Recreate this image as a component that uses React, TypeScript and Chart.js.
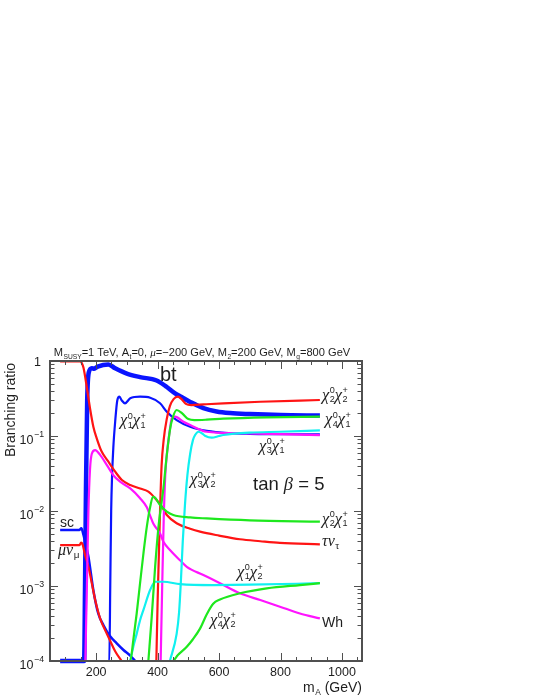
import React, { useEffect, useRef } from "react";
import { Chart, registerables } from "chart.js";
Chart.register(...registerables);

type Pt = [number, number];

// ---- data: [m_A (GeV), branching ratio] ----
const BT: Pt[] = [[83,1e-4],[161,1e-4],[164,1e-3],[167,0.02],[171,0.3],[176,0.7],[186,0.8],[194,0.79],[205,0.84],[240,0.9],[262,0.8],[300,0.68],[343,0.61],[397,0.55],[430,0.45],[457,0.37],[473,0.34],[506,0.285],[549,0.235],[592,0.212],[636,0.202],[700,0.196],[800,0.19],[928,0.187]];
const C1C1: Pt[] = [[83,1e-4],[243,1e-4],[246,1e-3],[249,0.01],[252,0.03],[256,0.07],[262,0.155],[269,0.3],[276,0.334],[283,0.3],[294,0.273],[311,0.318],[343,0.334],[376,0.324],[408,0.273],[430,0.211],[462,0.163],[506,0.133],[560,0.117],[636,0.109],[700,0.107],[928,0.105]];
const SC: Pt[] = [[83,5.6e-3],[146,5.6e-3],[152,5.9e-3],[159,4.8e-3],[167,3.5e-3],[175,2.46e-3],[191,8.8e-4],[207,4.3e-4],[224,3.0e-4],[245,2.15e-4],[267,1.72e-4],[289,1.4e-4],[311,1.18e-4],[327,1e-4]];
const MUNU: Pt[] = [[83,3.5e-3],[146,3.5e-3],[151,3.8e-3],[156,3.6e-3],[164,2.6e-3],[175,1.8e-3],[186,1.09e-3],[197,6.5e-4],[213,3.7e-4],[235,2.3e-4],[246,1.85e-4],[262,1.35e-4],[283,1e-4]];
const TAUNU: Pt[] = [[83,0.99],[148,0.99],[153,0.95],[159,0.81],[170,0.44],[180,0.236],[191,0.133],[202,0.093],[218,0.062],[240,0.0455],[262,0.0334],[284,0.0259],[311,0.0222],[343,0.02],[370,0.0181],[392,0.0148],[414,0.0114],[430,8.85e-3],[462,6.86e-3],[506,5.8e-3],[538,5.3e-3],[600,4.7e-3],[668,4.2e-3],[734,3.95e-3],[798,3.75e-3],[928,3.6e-3]];
const C2C2: Pt[] = [[396,1e-4],[400,6e-4],[404,2.5e-3],[408,0.01],[413,0.04],[420,0.09],[430,0.17],[440,0.25],[452,0.31],[466,0.334],[478,0.31],[492,0.268],[510,0.258],[550,0.264],[614,0.273],[734,0.286],[928,0.302]];
const C4C1: Pt[] = [[370,1e-4],[381,3.9e-4],[392,1.8e-3],[403,6.2e-3],[414,0.014],[419,0.02],[430,0.056],[441,0.126],[450,0.18],[462,0.222],[480,0.2],[500,0.168],[520,0.163],[560,0.165],[614,0.17],[755,0.177],[928,0.181]];
const C2C1: Pt[] = [[148,1e-4],[311,1e-4],[321,1.9e-4],[332,4.3e-4],[343,1.09e-3],[354,2.73e-3],[365,6.2e-3],[376,0.0114],[385,0.0155],[392,0.015],[408,0.012],[430,9.8e-3],[451,8.85e-3],[506,8.2e-3],[560,7.95e-3],[700,7.5e-3],[928,7.2e-3]];
const C4C2: Pt[] = [[148,1e-4],[448,1e-4],[466,1.2e-4],[495,1.55e-4],[515,1.95e-4],[538,2.7e-4],[560,4.2e-4],[581,5.8e-4],[603,6.6e-4],[668,8e-4],[755,9.3e-4],[863,1.03e-3],[928,1.09e-3]];
const C3C1: Pt[] = [[410,1e-4],[415,1e-3],[420,8e-3],[425,0.03],[430,0.056],[441,0.13],[446,0.172],[457,0.181],[484,0.155],[506,0.14],[560,0.114],[668,0.109],[798,0.106],[928,0.103]];
const WH: Pt[] = [[165,1e-4],[170,1e-3],[175,0.01],[180,0.035],[186,0.058],[197,0.065],[213,0.056],[235,0.041],[256,0.03],[278,0.0246],[311,0.02],[343,0.0148],[365,0.0112],[376,8.6e-3],[386,6.8e-3],[408,5e-3],[419,3.9e-3],[441,3e-3],[473,2.2e-3],[495,1.8e-3],[549,1.4e-3],[603,1.09e-3],[668,8e-4],[734,6.5e-4],[798,5.3e-4],[863,4.3e-4],[928,3.7e-4]];
const C3C2: Pt[] = [[440,1e-4],[462,2.3e-4],[470,4.5e-4],[476,1.2e-3],[482,4e-3],[489,0.012],[497,0.03],[506,0.058],[515,0.088],[522,0.103],[533,0.114],[545,0.108],[554,0.101],[576,0.095],[600,0.1],[614,0.103],[701,0.111],[798,0.114],[928,0.119]];
const C1C2: Pt[] = [[311,1e-4],[321,1.55e-4],[332,2.3e-4],[343,3.5e-4],[354,4.8e-4],[376,8.9e-4],[392,1.14e-3],[419,1.14e-3],[473,1.06e-3],[581,1.03e-3],[700,1.04e-3],[928,1.09e-3]];

const X_MIN = 50;
const X_MAX = 1065;
const Y_MIN = 1e-4;
const Y_MAX = 1;
const X_TICK_LABELS = [200, 400, 600, 800, 1000];
const Y_DECADES = [-4, -3, -2, -1, 0];

const RED = "#ff1414";
const BLUE = "#0a14ff";
const GREEN = "#1ee81e";
const CYAN = "#10f0f0";
const MAGENTA = "#ff14ff";
const AXIS = "#505050";
const TEXT = "#1e1e1e";

const SANS = '"Liberation Sans", Arial, Helvetica, sans-serif';
const SERIF = '"Liberation Serif", "Times New Roman", serif';

type Seg = { t: string; sub?: string; sup?: string; it?: boolean; fam?: string };

function fnt(size: number, it: boolean | undefined, fam: string) {
  return `${it ? "italic " : ""}${size}px ${fam}`;
}

function drawRich(
  ctx: CanvasRenderingContext2D,
  segs: Seg[],
  x: number,
  y: number,
  size: number,
  align: "left" | "right" | "center" = "left",
  o: { idx?: number; subDy?: number; supDy?: number; color?: string } = {}
) {
  const idx = (o.idx ?? 0.62) * size;
  const subDy = (o.subDy ?? 0.22) * size;
  const supDy = (o.supDy ?? -0.38) * size;
  let total = 0;
  for (const s of segs) {
    ctx.font = fnt(size, s.it, s.fam || SANS);
    let w = ctx.measureText(s.t).width;
    if (s.sub || s.sup) {
      ctx.font = fnt(idx, false, SANS);
      const a = s.sub ? ctx.measureText(s.sub).width : 0;
      const b = s.sup ? ctx.measureText(s.sup).width : 0;
      w += Math.max(a, b) + 0.5;
    }
    total += w;
  }
  let cx = align === "left" ? x : align === "right" ? x - total : x - total / 2;
  ctx.fillStyle = o.color || TEXT;
  ctx.textAlign = "left";
  ctx.textBaseline = "alphabetic";
  for (const s of segs) {
    ctx.font = fnt(size, s.it, s.fam || SANS);
    ctx.fillText(s.t, cx, y);
    cx += ctx.measureText(s.t).width;
    if (s.sub || s.sup) {
      ctx.font = fnt(idx, false, SANS);
      let w = 0;
      if (s.sub) {
        ctx.fillText(s.sub, cx + 0.5, y + subDy);
        w = Math.max(w, ctx.measureText(s.sub).width);
      }
      if (s.sup) {
        ctx.fillText(s.sup, cx + 0.5, y + supDy);
        w = Math.max(w, ctx.measureText(s.sup).width);
      }
      cx += w + 0.5;
    }
  }
}

const chi = (a: string, b: string): Seg[] => [
  { t: "\u03c7", it: true, fam: SERIF, sub: a, sup: "0" },
  { t: "\u03c7", it: true, fam: SERIF, sub: b, sup: "+" },
];

const CHI_LABELS: { a: string; b: string; x: number; y: number }[] = [
  { a: "1", b: "1", x: 120, y: 425 },
  { a: "3", b: "2", x: 190, y: 484 },
  { a: "2", b: "2", x: 322, y: 399.5 },
  { a: "4", b: "1", x: 325, y: 424 },
  { a: "3", b: "1", x: 259, y: 450.5 },
  { a: "2", b: "1", x: 322, y: 523.5 },
  { a: "1", b: "2", x: 237, y: 576.5 },
  { a: "4", b: "2", x: 210, y: 624.5 },
];

const overlay = {
  id: "overlay",
  afterDatasetsDraw(chart: any) {
    const ctx: CanvasRenderingContext2D = chart.ctx;
    const a = chart.chartArea;
    const xs = chart.scales.x;
    const ys = chart.scales.y;
    ctx.save();
    const seg = (x1: number, y1: number, x2: number, y2: number) => {
      ctx.beginPath();
      ctx.moveTo(x1, y1);
      ctx.lineTo(x2, y2);
      ctx.stroke();
    };
    // ticks (inside)
    ctx.strokeStyle = AXIS;
    ctx.lineWidth = 1;
    for (let v = 100; v <= 1050; v += 50) {
      const px = Math.round(xs.getPixelForValue(v)) + 0.5;
      const len = v % 200 === 0 ? 8 : 4;
      seg(px, a.bottom, px, a.bottom - len);
      seg(px, a.top, px, a.top + len);
    }
    for (const e of Y_DECADES) {
      for (let m = 1; m <= 9; m++) {
        const v = m * Math.pow(10, e);
        if (v > Y_MAX * 1.0001) break;
        const py = Math.round(ys.getPixelForValue(v)) + 0.5;
        const len = m === 1 ? 8 : 4.5;
        seg(a.left, py, a.left + len, py);
        seg(a.right, py, a.right - len, py);
      }
    }
    // frame
    ctx.lineWidth = 2;
    ctx.strokeRect(a.left, a.top, a.right - a.left, a.bottom - a.top);

    // x tick labels
    ctx.fillStyle = TEXT;
    ctx.font = `12.5px ${SANS}`;
    ctx.textAlign = "center";
    ctx.textBaseline = "alphabetic";
    for (const v of X_TICK_LABELS) {
      ctx.fillText(String(v), xs.getPixelForValue(v), 676);
    }
    // y tick labels
    for (const e of Y_DECADES) {
      const py = ys.getPixelForValue(Math.pow(10, e));
      if (e === 0) {
        drawRich(ctx, [{ t: "1" }], 41, py + 4.5, 12.5, "right");
      } else {
        drawRich(ctx, [{ t: "10", sup: "\u2212" + String(-e) }], 44, py + 8, 12.5, "right", { supDy: -0.55, idx: 0.7 });
      }
    }
    // axis titles
    drawRich(ctx, [{ t: "m", sub: "A" }, { t: " (GeV)" }], 362, 692, 14, "right", { subDy: 0.2, idx: 0.6 });
    ctx.save();
    ctx.translate(15, 410);
    ctx.rotate(-Math.PI / 2);
    ctx.fillStyle = TEXT;
    ctx.font = `14px ${SANS}`;
    ctx.textAlign = "center";
    ctx.fillText("Branching ratio", 0, 0);
    ctx.restore();

    // title
    drawRich(
      ctx,
      [
        { t: "M", sub: "SUSY" },
        { t: "=1 TeV, A", sub: "t" },
        { t: "=0, " },
        { t: "\u03bc", it: true, fam: SERIF },
        { t: "=\u2212200 GeV, M", sub: "2" },
        { t: "=200 GeV, M", sub: "g" },
        { t: "=800 GeV" },
      ],
      202,
      356,
      11.1,
      "center",
      { subDy: 0.25, idx: 0.6 }
    );

    // curve labels
    drawRich(ctx, [{ t: "bt" }], 160, 381, 20, "left");
    drawRich(ctx, [{ t: "tan " }, { t: "\u03b2", it: true, fam: SERIF }, { t: " = 5" }], 253, 490, 18.5, "left");
    drawRich(ctx, [{ t: "sc" }], 60, 527, 14, "left");
    drawRich(ctx, [{ t: "\u03bc\u03bd", it: true, fam: SERIF, sub: "\u03bc" }], 58, 555, 16, "left", { subDy: 0.2 });
    drawRich(ctx, [{ t: "\u03c4\u03bd", it: true, fam: SERIF, sub: "\u03c4" }], 322, 546, 16, "left", { subDy: 0.2 });
    drawRich(ctx, [{ t: "Wh" }], 322, 627, 14, "left");
    for (const l of CHI_LABELS) {
      drawRich(ctx, chi(l.a, l.b), l.x, l.y, 16.5, "left", { idx: 0.55, subDy: 0.16, supDy: -0.38 });
    }
    ctx.restore();
  },
};

function ds(data: Pt[], color: string, width: number) {
  return {
    data: data.map(([x, y]) => ({ x, y })),
    borderColor: color,
    backgroundColor: color,
    borderWidth: width,
    pointRadius: 0,
    fill: false,
    cubicInterpolationMode: "monotone" as const,
    clip: 4,
  };
}

export default function App() {
  const ref = useRef<HTMLCanvasElement | null>(null);
  useEffect(() => {
    if (!ref.current) return;
    const chart = new Chart(ref.current, {
      type: "line",
      data: {
        datasets: [
          ds(C4C2, GREEN, 2.2),
          ds(C2C1, GREEN, 2.2),
          ds(C4C1, GREEN, 2.2),
          ds(C1C2, CYAN, 2.2),
          ds(C3C2, CYAN, 2.2),
          ds(WH, MAGENTA, 2.2),
          ds(C3C1, MAGENTA, 2.2),
          ds(C2C2, RED, 2.2),
          ds(TAUNU, RED, 2.2),
          ds(MUNU, RED, 2.2),
          ds(BT, BLUE, 4.5),
          ds(C1C1, BLUE, 2.2),
          ds(SC, BLUE, 2.5),
        ] as any,
      },
      options: {
        animation: false,
        responsive: false,
        maintainAspectRatio: false,
        devicePixelRatio: 1,
        layout: { padding: { left: 0, right: 178, top: 361, bottom: 0 } },
        plugins: {
          legend: { display: false },
          tooltip: { enabled: false },
          title: { display: false },
        },
        scales: {
          x: {
            type: "linear",
            min: X_MIN,
            max: X_MAX,
            grid: { display: false },
            border: { display: false },
            ticks: { display: false },
            afterFit: (s: any) => {
              s.height = 38;
            },
          },
          y: {
            type: "logarithmic",
            min: Y_MIN,
            max: Y_MAX,
            grid: { display: false },
            border: { display: false },
            ticks: { display: false },
            afterFit: (s: any) => {
              s.width = 50;
            },
          },
        },
      } as any,
      plugins: [overlay],
    });
    return () => chart.destroy();
  }, []);
  return (
    <div style={{ position: "fixed", left: 0, top: 0, width: 540, height: 699, background: "#fff" }}>
      <canvas ref={ref} width={540} height={699} style={{ display: "block", width: 540, height: 699 }} />
    </div>
  );
}
